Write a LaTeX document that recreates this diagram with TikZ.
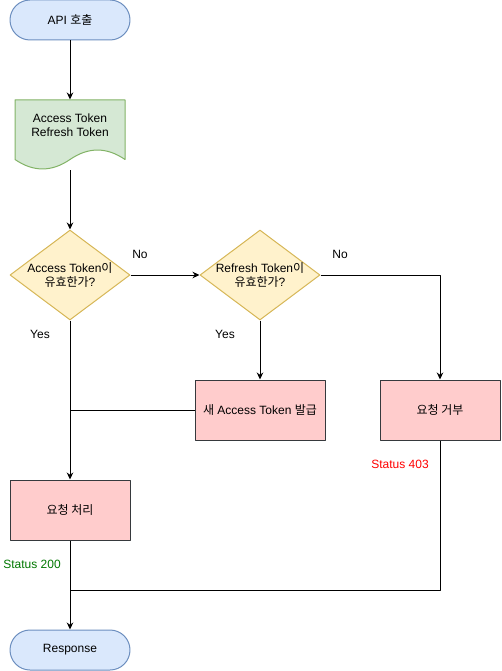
\documentclass[tikz,border=0pt]{standalone}
\usepackage{fontspec}
\setmainfont{Liberation Sans}
\newfontfamily\kr{Noto Sans CJK KR}
\usetikzlibrary{shapes.geometric,arrows.meta}
\definecolor{bluefill}{HTML}{DAE8FC}
\definecolor{blueline}{HTML}{6C8EBF}
\definecolor{greenfill}{HTML}{D5E8D4}
\definecolor{greenline}{HTML}{82B366}
\definecolor{yellowfill}{HTML}{FFF2CC}
\definecolor{yellowline}{HTML}{D6B656}
\definecolor{redfill}{HTML}{FFCCCC}
\definecolor{redline}{HTML}{36393D}
\definecolor{okgreen}{HTML}{007700}
\definecolor{denyred}{HTML}{FF0000}
\begin{document}
\begin{tikzpicture}[x=1pt, y=-1pt, line width=1pt, line join=round,
    font=\fontsize{12}{14}\selectfont, >={Stealth[length=7pt,width=6.5pt]},
    term/.style={rectangle, rounded corners=20pt, draw=blueline, fill=bluefill, minimum width=120pt, minimum height=40pt, inner sep=0pt},
    docbox/.style={rectangle, minimum width=110pt, minimum height=70pt, inner sep=0pt},
    cond/.style={diamond, draw=yellowline, fill=yellowfill, minimum width=120pt, minimum height=90pt, inner sep=0pt},
    stepbox/.style={rectangle, draw=redline, fill=redfill, minimum width=120pt, minimum height=60pt, inner sep=0pt},
    lbl/.style={inner sep=0pt}]
	\useasboundingbox (0,0) rectangle (501,671);
	% nodes
	\node[term] (api) at (70,20) {API {\kr 호출}};
	\node[docbox] (tok) at (70,135) {};
	\fill[greenfill] (15,100) -- (125,100) -- (125,159.5) .. controls (106.67,146.9) and (88.33,146.9) .. (70,159.5) .. controls (51.67,172.1) and (33.33,172.1) .. (15,159.5) -- cycle;
	\draw[greenline] (15,100) -- (125,100) -- (125,159.5) .. controls (106.67,146.9) and (88.33,146.9) .. (70,159.5) .. controls (51.67,172.1) and (33.33,172.1) .. (15,159.5) -- cycle;
	\node[lbl, align=center] (toktext) at (70,125) {Access Token\\Refresh Token};
	\node[cond] (acc) at (70,275) {};
	\node[lbl, align=center] at (acc) {Access Token{\kr 이}\\{\kr 유효한가}?};
	\node[cond] (ref) at (260,275) {};
	\node[lbl, align=center] at (ref) {Refresh Token{\kr 이}\\{\kr 유효한가}?};
	\node[stepbox, minimum width=130pt] (newtok) at (260,410) {{\kr 새} Access Token {\kr 발급}};
	\node[stepbox] (deny) at (440,410) {\kr 요청 거부};
	\node[stepbox] (proc) at (70,510) {\kr 요청 처리};
	\node[term] (resp) at (70,650) {Response};
	\coordinate (merge) at (70,590);
	% connectors
	\draw[->] (api) -- (tok);
	\draw[->] (tok) -- (acc);
	\draw[->] (acc) -- (ref);
	\draw[->] (ref.east) -| (deny.north);
	\draw[->] (ref) -- (newtok);
	\draw[->] (acc) -- (proc);
	\draw (newtok.west) -- (newtok.west -| acc.south);
	\draw[->] (proc) -- (resp);
	\draw (deny.south) |- (merge);
	% labels
	\node[lbl] at (140,254) {No};
	\node[lbl] at (340,254) {No};
	\node[lbl] at (40,334) {Yes};
	\node[lbl] at (225,334) {Yes};
	\node[lbl, text=okgreen] at (32,564) {Status 200};
	\node[lbl, text=denyred] at (400,464) {Status 403};
\end{tikzpicture}
\end{document}
